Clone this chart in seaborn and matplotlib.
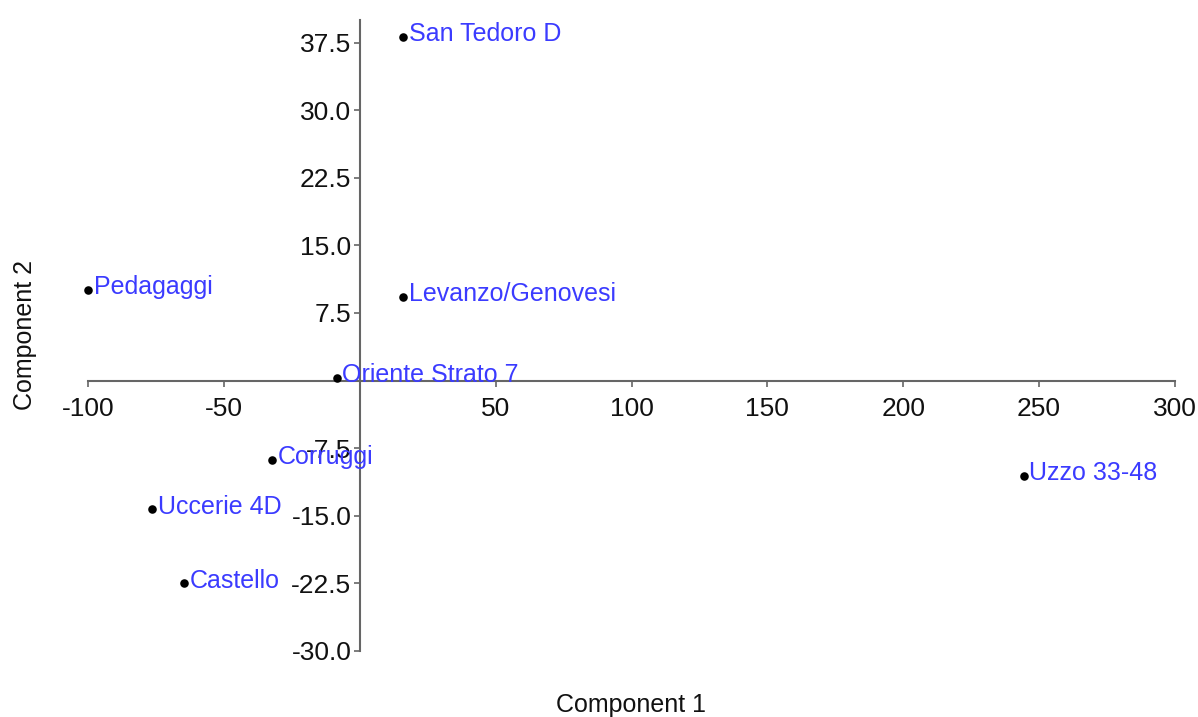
import matplotlib
matplotlib.use("Agg")
import matplotlib.pyplot as plt
import seaborn as sns
import pandas as pd

sites = ["San Tedoro D", "Pedagaggi", "Levanzo/Genovesi", "Oriente Strato 7",
         "Corruggi", "Uccerie 4D", "Castello", "Uzzo 33-48"]
comp1 = [15.9, -100.0, 15.9, -8.4, -32.3, -76.4, -64.7, 244.4]
comp2 = [38.1, 10.1, 9.3, 0.3, -8.8, -14.3, -22.5, -10.6]
xticks = [-100, -50, 50, 100, 150, 200, 250, 300]
yticks = [-30.0, -22.5, -15.0, -7.5, 7.5, 15.0, 22.5, 30.0, 37.5]

df = pd.DataFrame({"site": sites, "c1": comp1, "c2": comp2})

sns.set_theme(style="white")
plt.rcParams['font.family'] = ['Liberation Sans', 'DejaVu Sans']

fig = plt.figure(figsize=(11.98, 7.17), dpi=100)
ax = fig.add_axes([88/1198, 1-651/717, (1175-88)/1198, (651-20)/717])

sns.scatterplot(data=df, x="c1", y="c2", ax=ax, color="black", s=38,
                edgecolor="black", linewidth=0, zorder=3, clip_on=False)
for _, r in df.iterrows():
    ax.annotate(r["site"], (r["c1"], r["c2"]), xytext=(4, 2),
                textcoords="offset points", ha="left", va="center",
                color="#3b3bff", fontsize=18, annotation_clip=False)

ax.set_xlim(-100, 300)
ax.set_ylim(-30, 40)
ax.set_xticks(xticks)
ax.set_yticks(yticks)
ax.set_xticklabels([str(t) for t in xticks])
ax.set_yticklabels([f"{t:.1f}" for t in yticks])

for s in ["top", "right"]:
    ax.spines[s].set_visible(False)
ax.spines["left"].set_position(("data", 0))
ax.spines["bottom"].set_position(("data", 0))
for s in ["left", "bottom"]:
    ax.spines[s].set_color("#666666")
    ax.spines[s].set_linewidth(1.5)
ax.tick_params(axis="both", which="major", direction="out", length=4,
               width=1.2, color="#666666", labelsize=19, labelcolor="#111111",
               bottom=True, left=True, pad=2)
ax.tick_params(axis="x", pad=8)
ax.set_xlabel("")
ax.set_ylabel("")
ax.grid(False)

fig.text(631/1198, 1-705/717, "Component 1", ha="center", va="center",
         fontsize=18, color="#111111")
fig.text(25/1198, 1-335/717, "Component 2", ha="center", va="center",
         rotation=90, fontsize=18, color="#111111")

fig.savefig("out.png", dpi=100)
